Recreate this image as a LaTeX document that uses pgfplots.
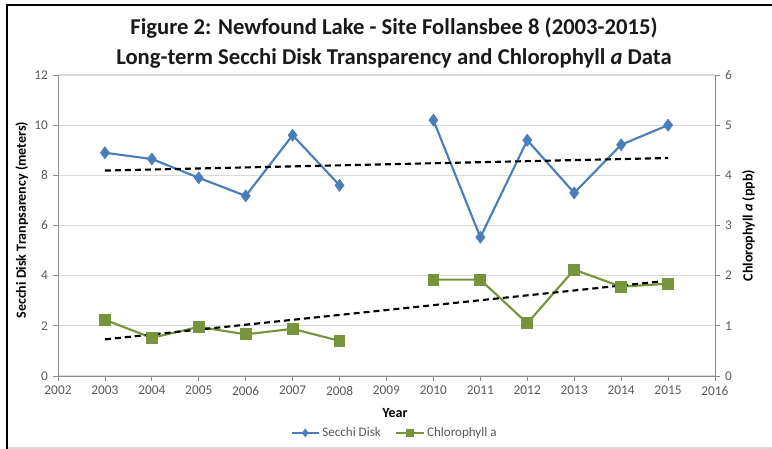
\documentclass[border=0pt]{standalone}
\usepackage{fontspec}
\setmainfont{Carlito}
\usepackage{pgfplots}
\pgfplotsset{compat=1.18}
\definecolor{secchi}{HTML}{4A7EBB}
\definecolor{chl}{HTML}{77933C}
\definecolor{gridc}{HTML}{D9D9D9}
\definecolor{axc}{HTML}{8C8C8C}
\definecolor{tickc}{HTML}{595959}
\pgfplotstableread{
year secchi
2003 8.9
2004 8.65
2005 7.9
2006 7.18
2007 9.6
2008 7.6
2009 nan
2010 10.2
2011 5.53
2012 9.4
2013 7.3
2014 9.22
2015 10.0
}\secchidata
\pgfplotstableread{
year chl
2003 1.12
2004 0.76
2005 0.98
2006 0.83
2007 0.94
2008 0.70
2009 nan
2010 1.92
2011 1.92
2012 1.05
2013 2.12
2014 1.78
2015 1.84
}\chldata
\pgfplotsset{
  common/.style={
    at={(43.5pt,54.75pt)}, anchor=south west, scale only axis,
    width=492.75pt, height=225.75pt,
    xmin=2002, xmax=2016,
    unbounded coords=jump,
    axis line style={axc, line width=0.6pt},
    tick style={axc, line width=0.6pt},
    major tick length=4pt,
    tick align=outside,
    tick label style={font=\fontsize{10}{12}\selectfont, text=tickc},
    /pgf/number format/assume math mode=true,
    /pgf/number format/1000 sep={},
    clip=false,
  },
  trend/.style={black, line width=1.6pt, dash pattern=on 4.5pt off 3pt, forget plot},
  sstyle/.style={secchi, line width=1.6pt, mark=diamond*, mark size=3.6pt, mark options={solid, fill=secchi}},
  cstyle/.style={chl, line width=1.6pt, mark=square*, mark size=3.6pt, mark options={solid, fill=chl}},
}
\begin{document}
\begin{tikzpicture}
\path[use as bounding box] (0,0) rectangle (579pt,336.75pt);
\draw[gridc, line width=0.8pt] (4.5pt,0.75pt) -- (579pt,0.75pt);
\draw[black, line width=2.2pt] (5.25pt,0pt) -- (5.25pt,333pt) -- (579pt,333pt);
\node[font=\fontsize{17}{20}\selectfont\bfseries, text=black!90] at (295.5pt,315.75pt) {Figure 2: Newfound Lake - Site Follansbee 8 (2003-2015)};
\node[font=\fontsize{17}{20}\selectfont\bfseries, text=black!90] at (295.5pt,293.25pt) {Long-term Secchi Disk Transparency and Chlorophyll \textit{a} Data};
\begin{axis}[common,
  ymin=0, ymax=12, ytick={0,2,...,12},
  xtick={2002,...,2016},
  axis x line*=bottom, axis y line*=left,
  ymajorgrids, major grid style={gridc, line width=0.8pt},
  xlabel={Year}, xlabel style={font=\fontsize{10.5}{12}\selectfont\bfseries, at={(axis description cs:0.513,-0.123)}, anchor=center},
  ylabel={Secchi Disk Tranpsarency (meters)}, ylabel style={font=\fontsize{10.5}{12}\selectfont\bfseries, at={(axis description cs:-0.055,0.518)}, anchor=center},
]
\addplot[sstyle] table[x=year, y=secchi] {\secchidata};
\addplot[trend] coordinates {(2003,8.19) (2015,8.69)};
\end{axis}
\begin{axis}[common,
  ymin=0, ymax=6, ytick={0,1,...,6},
  axis x line=none, axis y line*=right,
  ylabel={Chlorophyll \textit{a} (ppb)}, ylabel style={font=\fontsize{10.5}{12}\selectfont\bfseries, at={(axis description cs:1.051,0.5)}, anchor=center},
  legend columns=2,
  legend style={draw=none, fill=none, at={(0.513,-0.189)}, anchor=center, font=\fontsize{9.8}{11}\selectfont, text=tickc, /tikz/every even column/.append style={column sep=9pt}},
  legend image code/.code={\draw[mark repeat=2, mark phase=2] plot coordinates {(0cm,0cm) (0.36cm,0cm) (0.72cm,0cm)};},
]
\addlegendimage{sstyle, mark size=2.3pt, line width=1.2pt}
\addlegendentry{Secchi Disk}
\addlegendimage{cstyle, mark size=2.3pt, line width=1.2pt}
\addlegendentry{Chlorophyll a}
\addplot[cstyle, forget plot] table[x=year, y=chl] {\chldata};
\addplot[trend] coordinates {(2003,0.73) (2015,1.9)};
\end{axis}
\end{tikzpicture}
\end{document}
